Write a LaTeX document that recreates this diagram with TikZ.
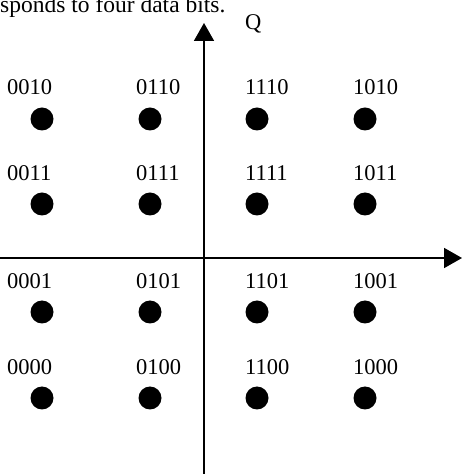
\documentclass[tikz,border=0pt]{standalone}
\usepackage{fontspec}
\setmainfont{Liberation Serif}
\usetikzlibrary{arrows.meta}
\begin{document}
\begin{tikzpicture}[x=1pt,y=1pt,
  dot/.style={circle,fill=black,inner sep=0pt,minimum size=23pt},
  lbl/.style={anchor=base west,inner sep=0pt,font=\fontsize{22.5}{27}\selectfont},
  axis/.style={line width=1.8pt,-{Triangle[length=18pt,width=20pt]}}]
\useasboundingbox (0,0) rectangle (474,474);
\clip (0,0) rectangle (474,474);
% caption fragment
\node[lbl,font=\fontsize{23.5}{28}\selectfont] (cap) at (0,461) {sponds to four data bits.};
% axes
\coordinate (vbot) at (204,-2);
\coordinate (vtop) at (204,451);
\coordinate (hl) at (-2,216);
\coordinate (hr) at (462,216);
\draw[axis] (vbot) -- (vtop);
\draw[axis] (hl) -- (hr);
\node[lbl] (q) at (245,444) {Q};
% dots
\foreach \n/\x/\y in {a/42/355,b/150/355,c/257/355,d/365/355,
                      e/42/270,f/150/270,g/257/270,h/365/270,
                      i/42/162,j/150/162,k/257/162,l/365/162,
                      m/42/76,n/150/76,o/257/76,p/365/76}
  \node[dot] (\n) at (\x,\y) {};
% labels
\node[lbl] (la) at (7,379) {0010};
\node[lbl] (lb) at (136,379) {0110};
\node[lbl] (lc) at (245,379) {1110};
\node[lbl] (ld) at (353,379) {1010};
\node[lbl] (le) at (7,293) {0011};
\node[lbl] (lf) at (136,293) {0111};
\node[lbl] (lg) at (245,293) {1111};
\node[lbl] (lh) at (353,293) {1011};
\node[lbl] (li) at (7,185) {0001};
\node[lbl] (lj) at (136,185) {0101};
\node[lbl] (lk) at (245,185) {1101};
\node[lbl] (ll) at (353,185) {1001};
\node[lbl] (lm) at (7,99) {0000};
\node[lbl] (ln) at (136,99) {0100};
\node[lbl] (lo) at (245,99) {1100};
\node[lbl] (lp) at (353,99) {1000};
\end{tikzpicture}
\end{document}
